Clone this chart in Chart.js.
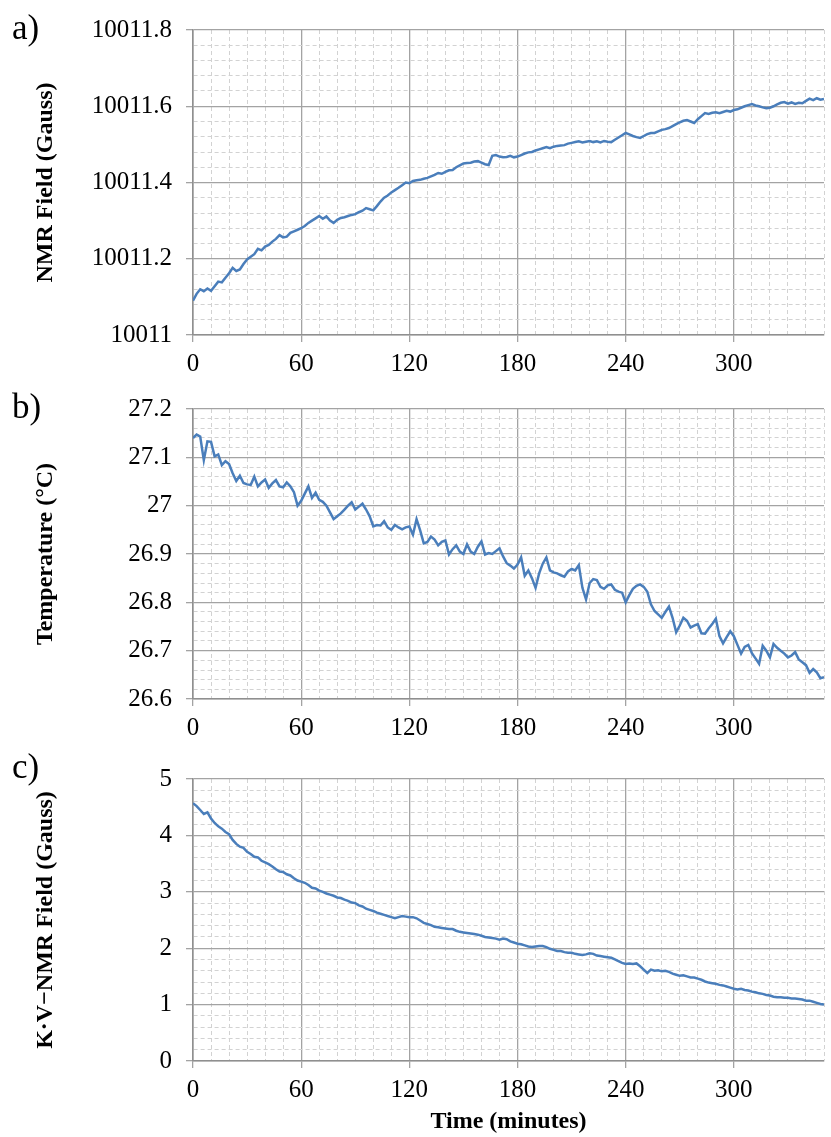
<!DOCTYPE html>
<html><head><meta charset="utf-8">
<script src="https://cdn.jsdelivr.net/npm/chart.js@4"></script>
<style>
body{margin:0;background:#fff;width:831px;height:1137px;position:relative;overflow:hidden}
canvas{position:absolute;left:0}
.lbl{position:absolute;left:12px;font-family:'Liberation Serif',serif;font-size:35px;color:#000;line-height:1}
</style></head><body>
<canvas id="ca" width="831" height="380" style="top:0px"></canvas>
<canvas id="cb" width="831" height="370" style="top:380px"></canvas>
<canvas id="cc" width="831" height="387" style="top:750px"></canvas>
<div class="lbl" style="top:10px">a)</div>
<div class="lbl" style="top:389px">b)</div>
<div class="lbl" style="top:749px">c)</div>
<script>
const timeMin = [0,2,4,6,8,10,12,14,16,18,20,22,24,26,28,30,32,34,36,38,40,42,44,46,48,50,52,54,56,58,
60,62,64,66,68,70,72,74,76,78,80,82,84,86,88,90,92,94,96,98,100,102,104,106,108,110,112,114,116,118,
120,122,124,126,128,130,132,134,136,138,140,142,144,146,148,150,152,154,156,158,160,162,164,166,168,170,172,174,176,178,
180,182,184,186,188,190,192,194,196,198,200,202,204,206,208,210,212,214,216,218,220,222,224,226,228,230,232,234,236,238,
240,242,244,246,248,250,252,254,256,258,260,262,264,266,268,270,272,274,276,278,280,282,284,286,288,290,292,294,296,298,
300,302,304,306,308,310,312,314,316,318,320,322,324,326,328,330,332,334,336,338,340,342,344,346,348,350];

const nmrField = [
10011.090,10011.108,10011.120,10011.115,10011.122,10011.116,10011.128,10011.140,10011.138,10011.150,
10011.162,10011.176,10011.168,10011.172,10011.186,10011.198,10011.205,10011.212,10011.226,10011.222,
10011.232,10011.236,10011.245,10011.252,10011.262,10011.256,10011.258,10011.268,10011.272,10011.276,
10011.280,10011.286,10011.294,10011.300,10011.306,10011.312,10011.305,10011.311,10011.300,10011.294,
10011.302,10011.307,10011.309,10011.312,10011.315,10011.317,10011.322,10011.326,10011.333,10011.330,
10011.327,10011.338,10011.350,10011.360,10011.366,10011.374,10011.380,10011.386,10011.393,10011.400,
10011.398,10011.404,10011.406,10011.407,10011.410,10011.412,10011.416,10011.420,10011.425,10011.423,
10011.428,10011.432,10011.433,10011.440,10011.445,10011.450,10011.451,10011.452,10011.455,10011.456,
10011.452,10011.448,10011.446,10011.470,10011.472,10011.468,10011.466,10011.467,10011.470,10011.466,
10011.468,10011.472,10011.476,10011.479,10011.480,10011.484,10011.487,10011.490,10011.493,10011.490,
10011.494,10011.496,10011.497,10011.498,10011.502,10011.504,10011.506,10011.508,10011.505,10011.507,
10011.509,10011.506,10011.508,10011.505,10011.509,10011.507,10011.506,10011.512,10011.518,10011.524,
10011.530,10011.526,10011.522,10011.519,10011.517,10011.522,10011.527,10011.530,10011.530,10011.534,
10011.538,10011.540,10011.543,10011.548,10011.553,10011.558,10011.562,10011.564,10011.560,10011.556,
10011.566,10011.574,10011.582,10011.580,10011.583,10011.584,10011.582,10011.585,10011.588,10011.586,
10011.590,10011.592,10011.596,10011.600,10011.603,10011.606,10011.602,10011.600,10011.597,10011.595,
10011.596,10011.600,10011.605,10011.609,10011.611,10011.607,10011.610,10011.606,10011.609,10011.608,
10011.614,10011.620,10011.616,10011.621,10011.617,10011.619];

const temperature = [
27.140,27.147,27.143,27.094,27.133,27.132,27.102,27.106,27.084,27.092,
27.086,27.067,27.051,27.062,27.047,27.044,27.043,27.060,27.040,27.048,
27.054,27.037,27.046,27.053,27.040,27.038,27.048,27.040,27.028,27.000,
27.010,27.025,27.040,27.016,27.027,27.012,27.008,27.000,26.986,26.972,
26.978,26.984,26.992,27.000,27.007,26.992,26.998,27.004,26.992,26.978,
26.957,26.960,26.959,26.968,26.955,26.950,26.960,26.955,26.951,26.955,
26.957,26.940,26.972,26.949,26.922,26.925,26.936,26.930,26.918,26.925,
26.928,26.899,26.910,26.918,26.905,26.900,26.920,26.905,26.900,26.915,
26.926,26.899,26.902,26.900,26.906,26.912,26.895,26.881,26.876,26.870,
26.878,26.893,26.855,26.866,26.850,26.830,26.860,26.880,26.893,26.866,
26.862,26.860,26.856,26.853,26.864,26.869,26.866,26.877,26.830,26.806,
26.840,26.848,26.846,26.832,26.828,26.835,26.837,26.826,26.822,26.820,
26.800,26.815,26.828,26.834,26.837,26.832,26.822,26.796,26.782,26.775,
26.768,26.780,26.791,26.768,26.738,26.752,26.768,26.762,26.748,26.752,
26.755,26.736,26.735,26.746,26.755,26.766,26.730,26.715,26.728,26.740,
26.730,26.712,26.694,26.708,26.712,26.695,26.684,26.673,26.710,26.700,
26.686,26.714,26.706,26.700,26.694,26.686,26.690,26.697,26.682,26.676,
26.670,26.654,26.662,26.655,26.643,26.645];

const kvNmrField = [
4.57,4.52,4.45,4.38,4.41,4.30,4.22,4.16,4.12,4.06,
4.02,3.92,3.85,3.80,3.78,3.71,3.67,3.62,3.61,3.55,
3.52,3.49,3.45,3.40,3.36,3.35,3.31,3.29,3.24,3.20,
3.18,3.16,3.12,3.07,3.06,3.02,3.00,2.97,2.95,2.93,
2.90,2.89,2.86,2.84,2.81,2.80,2.76,2.74,2.70,2.68,
2.66,2.63,2.61,2.59,2.57,2.55,2.53,2.55,2.57,2.56,
2.55,2.55,2.53,2.49,2.45,2.43,2.41,2.38,2.37,2.36,
2.35,2.34,2.34,2.31,2.29,2.28,2.27,2.26,2.25,2.24,
2.22,2.20,2.19,2.18,2.17,2.15,2.17,2.16,2.12,2.10,
2.08,2.07,2.05,2.03,2.02,2.03,2.04,2.04,2.02,1.99,
1.97,1.95,1.95,1.93,1.92,1.92,1.90,1.89,1.88,1.89,
1.91,1.90,1.87,1.86,1.85,1.84,1.83,1.80,1.77,1.74,
1.72,1.73,1.72,1.73,1.68,1.62,1.56,1.62,1.60,1.61,
1.59,1.60,1.58,1.55,1.53,1.51,1.52,1.50,1.48,1.48,
1.46,1.44,1.41,1.39,1.38,1.37,1.35,1.34,1.32,1.30,
1.28,1.27,1.28,1.26,1.25,1.23,1.22,1.20,1.19,1.17,
1.16,1.14,1.13,1.13,1.12,1.12,1.11,1.11,1.10,1.09,
1.07,1.07,1.05,1.03,1.01,1.00];

const xRange = {min: 0, max: 350, major: 60, minor: 10};
const xTitleText = 'Time (minutes)';
const panels = [
  {id: 'ca', values: nmrField, yMin: 10011, yMax: 10011.8, major: 0.2, minor: 0.04, title: 'NMR Field (Gauss)', top: 30, bottom: 335, xTitle: false},
  {id: 'cb', values: temperature, yMin: 26.6, yMax: 27.2, major: 0.1, minor: 0.02, title: 'Temperature (\u00B0C)', top: 25, bottom: 319, xTitle: false},
  {id: 'cc', values: kvNmrField, yMin: 0, yMax: 5, major: 1, minor: 0.2, title: 'K\u00B7V\u2212NMR Field (Gauss)', top: 27, bottom: 311, xTitle: true}
];

const LINE = '#4a7ebb', MAJ = '#a3a3a3', MIN = '#d2d2d2', AXIS = '#8f8f8f';
const tickFont = {family: 'Liberation Serif', size: 25};
const titleFont = {family: 'Liberation Serif', size: 24, weight: 'bold'};

function isMajor(v, step) { const r = v / step; return Math.abs(r - Math.round(r)) < 1e-3; }

function gridOpts(step) {
  return {
    color: c => (c.tick && !isMajor(c.tick.value, step)) ? MIN : MAJ,
    lineWidth: c => (c.tick && !isMajor(c.tick.value, step)) ? 1 : 1.3,
    borderDash: c => (c.tick && !isMajor(c.tick.value, step)) ? [4, 3] : [],
    tickColor: c => (c.tick && !isMajor(c.tick.value, step)) ? 'rgba(0,0,0,0)' : MAJ,
    tickLength: 7,
    tickWidth: 1.3
  };
}
function borderOpts(step) {
  return {
    display: true, color: AXIS, width: 1.6,
    dash: c => (c.tick && !isMajor(c.tick.value, step)) ? [4, 3] : []
  };
}

panels.forEach(p => {
  const cv = document.getElementById(p.id);
  const H = cv.height;
  new Chart(cv, {
    type: 'line',
    data: {
      datasets: [{
        data: timeMin.map((t, i) => ({x: t, y: p.values[i]})),
        borderColor: LINE, borderWidth: 2.5, pointRadius: 0, tension: 0, fill: false
      }]
    },
    options: {
      responsive: false, animation: false, events: [],
      layout: {padding: {top: p.top, left: 0, right: 0, bottom: 0}},
      plugins: {legend: {display: false}, tooltip: {enabled: false}},
      scales: {
        x: {
          type: 'linear', min: xRange.min, max: xRange.max,
          ticks: {stepSize: xRange.minor, autoSkip: false, maxRotation: 0, color: '#000', font: tickFont, padding: 7,
            callback: v => isMajor(v, xRange.major) ? String(Math.round(v)) : ''},
          grid: gridOpts(xRange.major), border: borderOpts(xRange.major),
          title: {display: p.xTitle, text: xTitleText, color: '#000', font: titleFont, padding: {top: 0, bottom: 1}},
          afterFit: s => { s.height = H - p.bottom; }
        },
        y: {
          type: 'linear', min: p.yMin, max: p.yMax,
          ticks: {stepSize: p.minor, autoSkip: false, color: '#000', font: tickFont, padding: 14,
            callback: v => isMajor(v, p.major) ? String(+v.toFixed(1)) : ''},
          grid: gridOpts(p.major), border: borderOpts(p.major),
          title: {display: true, text: p.title, color: '#000', font: titleFont, padding: {top: 31, bottom: 0}},
          afterFit: s => { s.width = 193; }
        }
      }
    }
  });
});
</script>
</body></html>
